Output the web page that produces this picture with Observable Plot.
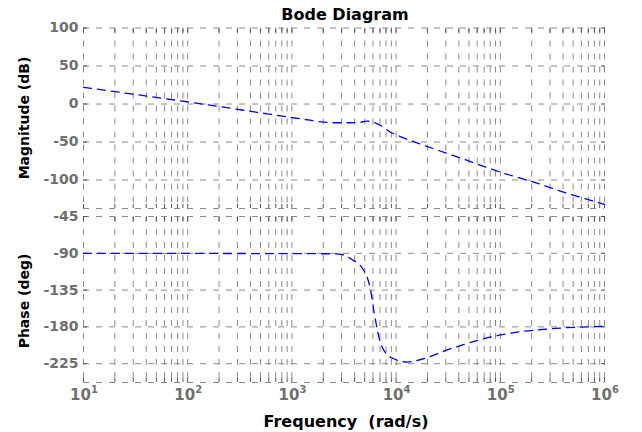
<!DOCTYPE html>
<html><head><meta charset="utf-8">
<script src="https://cdn.jsdelivr.net/npm/d3@7"></script>
<script src="https://cdn.jsdelivr.net/npm/@observablehq/plot@0.6"></script>
<style>
body{margin:0;background:#fff;}
#chart{position:relative;width:642px;height:432px;font-family:"DejaVu Sans",sans-serif;}
#chart svg{position:absolute;left:0;}
.lbl{position:absolute;font-weight:bold;color:#000;white-space:nowrap;line-height:1;}
</style></head><body>
<div id="chart"></div>
<script>
// Frequency (rad/s) and magnitude (dB)
const magFreq = [10, 133, 280, 580, 1210, 2540, 3660, 4470, 5300, 7110, 8850, 11000, 23100, 48200, 100000, 210000, 439000, 1000000];
const magDb   = [22, 0.3, -6.3, -12.9, -19.5, -24.7, -24.7, -24, -22.6, -28.3, -37.1, -42.8, -59, -74.3, -89.7, -102.9, -117.4, -132.2];
// Frequency (rad/s) and phase (deg)
const phaseFreq = [10, 2520, 3160, 3660, 4910, 5700, 6120, 6840, 7640, 9530, 12800, 16000, 33300, 69500, 145500, 303400, 916000, 1000000];
const phaseDeg  = [-90, -90.6, -92, -96.7, -111, -135.5, -160, -192.6, -208.8, -219, -223, -221, -206.7, -194.5, -186.4, -182.3, -179.5, -179.4];

const magTicks = [100, 50, 0, -50, -100];
const phaseTicks = [-45, -90, -135, -180, -225];
const decades = [10, 100, 1000, 10000, 100000, 1000000];
const decadeExp = ["1", "2", "3", "4", "5", "6"];
const magDomain = [-137.5, 100];
const phaseDomain = [-248, -45];
const xDomain = [10, 1000000];
const minorMult = [1, 2, 3, 4, 5, 6, 7, 8, 9];

const minorX = decades.slice(0, -1).flatMap(d => minorMult.map(m => d * m)).concat([decades[decades.length - 1]]);

const gridColor = "#8a8a8a";
const tickColor = "#555555";
const labelColor = "#6f6f6f";

function panel({freq, vals, yTicks, yDomain, height, mTop, mBottom, xLabels}) {
  const data = freq.map((f, i) => ({f, v: vals[i]}));
  const marks = [
    Plot.ruleX(minorX, {stroke: gridColor, strokeDasharray: "6,7", strokeWidth: 1}),
    Plot.ruleY(Array.from(new Set(yTicks.concat(yDomain))), {stroke: gridColor, strokeDasharray: "6,7", strokeWidth: 1}),
    Plot.axisX({anchor: "top", ticks: minorX, tickSize: -4, tickFormat: () => "", label: null, stroke: tickColor}),
    Plot.axisX({anchor: "bottom", ticks: minorX, tickSize: -4, tickFormat: () => "", label: null, stroke: tickColor}),
    Plot.axisY({anchor: "left", ticks: yTicks, tickSize: -4, tickFormat: () => "", label: null, stroke: tickColor}),
    Plot.axisY({anchor: "right", ticks: yTicks, tickSize: -4, tickFormat: () => "", label: null, stroke: tickColor}),
    Plot.axisY({anchor: "left", ticks: yTicks, tickSize: 0, tickPadding: 5, label: null, fill: labelColor,
      fontSize: 14, fontWeight: "bold", fontFamily: "DejaVu Sans", tickFormat: d => String(d)}),
    Plot.line(data, {x: "f", y: "v", stroke: "#0000ff", strokeWidth: 1.3, strokeDasharray: "8,6", curve: "monotone-x"})
  ];
  if (xLabels) {
    marks.push(Plot.text(decades, {x: d => d, text: () => "10", frameAnchor: "bottom", dy: 17, dx: -3,
      fill: labelColor, fontSize: 15, fontWeight: "bold", fontFamily: "DejaVu Sans"}));
    marks.push(Plot.text(decades, {x: d => d, text: (d, i) => decadeExp[i], frameAnchor: "bottom", dy: 10, dx: 11,
      fill: labelColor, fontSize: 10, fontWeight: "bold", fontFamily: "DejaVu Sans"}));
  }
  return Plot.plot({
    width: 642, height,
    marginLeft: 83, marginRight: 38, marginTop: mTop, marginBottom: mBottom,
    x: {type: "log", domain: xDomain, label: null},
    y: {domain: yDomain, label: null},
    style: {background: "none", fontFamily: "DejaVu Sans", overflow: "visible"},
    marks
  });
}

const chartEl = document.getElementById("chart");
const magPlot = panel({freq: magFreq, vals: magDb, yTicks: magTicks, yDomain: magDomain, height: 212, mTop: 27.5, mBottom: 4, xLabels: false});
magPlot.style.top = "0px";
const phasePlot = panel({freq: phaseFreq, vals: phaseDeg, yTicks: phaseTicks, yDomain: phaseDomain, height: 220, mTop: 4, mBottom: 50, xLabels: true});
phasePlot.style.top = "212px";
chartEl.appendChild(magPlot);
chartEl.appendChild(phasePlot);

function addLabel(text, css) {
  const d = document.createElement("div");
  d.className = "lbl";
  d.textContent = text;
  Object.assign(d.style, css);
  chartEl.appendChild(d);
  return d;
}
addLabel("Bode Diagram", {left: "345px", top: "7px", fontSize: "16px", transform: "translateX(-50%)"});
addLabel("Frequency  (rad/s)", {left: "346px", top: "414px", fontSize: "16px", transform: "translateX(-50%)", whiteSpace: "pre"});
addLabel("Magnitude (dB)", {left: "24px", top: "118px", fontSize: "14px", transform: "translate(-50%,-50%) rotate(-90deg)"});
addLabel("Phase (deg)", {left: "24px", top: "301px", fontSize: "14px", transform: "translate(-50%,-50%) rotate(-90deg)"});
</script>
</body></html>
